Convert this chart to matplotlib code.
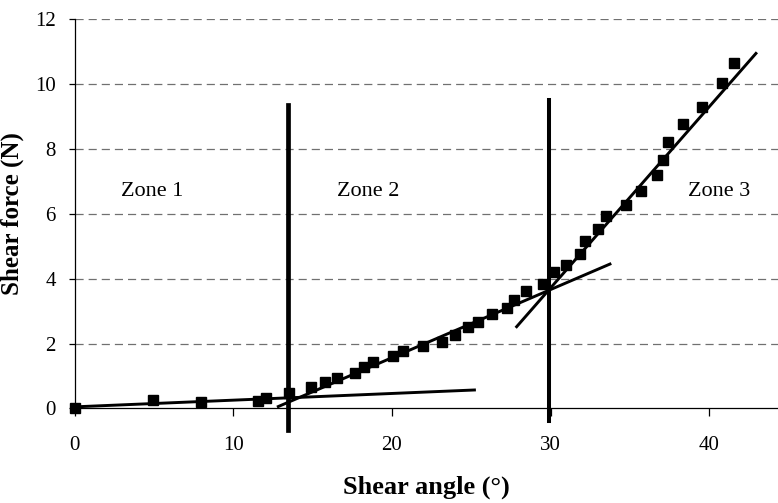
"""Shear force vs shear angle with three zones and trend lines."""

import matplotlib.pyplot as plt

plt.rcParams["font.family"] = ["Liberation Serif", "DejaVu Serif"]

# Measured points
angle = [0, 4.95, 7.97, 11.56, 12.07, 13.5, 14.88, 15.78, 16.56, 17.67, 18.26, 18.79,
         20.09, 20.70, 21.96, 23.18, 23.98, 24.78, 25.45, 26.29, 27.27, 27.69, 28.45,
         29.50, 30.23, 30.97, 31.85, 32.17, 33.0, 33.49, 34.77, 35.68, 36.69, 37.1,
         37.38, 38.36, 39.56, 40.78, 41.56]
force = [0.0, 0.26, 0.2, 0.24, 0.31, 0.49, 0.65, 0.83, 0.95, 1.10, 1.27, 1.44,
         1.62, 1.76, 1.91, 2.06, 2.26, 2.50, 2.65, 2.91, 3.09, 3.33, 3.61,
         3.83, 4.19, 4.41, 4.77, 5.15, 5.54, 5.93, 6.27, 6.69, 7.19, 7.67,
         8.22, 8.78, 9.28, 10.04, 10.63]

# Trend lines (end points)
fit1_x, fit1_y = [0, 25.2], [0.05, 0.57]
fit2_x, fit2_y = [12.84, 33.74], [0.06, 4.45]
fit3_x, fit3_y = [27.86, 42.94], [2.52, 10.94]

# Zone boundaries
bound_x = [13.47, 29.9]
bound_lo = [-0.66, -0.38]
bound_hi = [9.34, 9.52]
bound_lw = [3.4, 2.9]

zone_labels = ["Zone 1", "Zone 2", "Zone 3"]
zone_x = [4.9, 18.5, 40.6]
zone_y = [6.7, 6.7, 6.7]

fig = plt.figure(figsize=(7.78, 5.03), dpi=100)
ax = fig.add_axes([0.0958, 0.1879, 0.9042, 0.7743])

for y in range(2, 13, 2):
    ax.axhline(y, color="#707070", linewidth=0.9, linestyle=(0, (6.5, 4)), zorder=0)

ax.plot(fit1_x, fit1_y, color="black", linewidth=2.1)
ax.plot(fit2_x, fit2_y, color="black", linewidth=2.1)
ax.plot(fit3_x, fit3_y, color="black", linewidth=2.1)

for bx, lo, hi, lw in zip(bound_x, bound_lo, bound_hi, bound_lw):
    ax.plot([bx, bx], [lo, hi], color="black", linewidth=lw, clip_on=False)

ax.plot(angle, force, linestyle="none", marker="s", markersize=6.7,
        color="black", clip_on=False, zorder=5)

for lab, zx, zy in zip(zone_labels, zone_x, zone_y):
    ax.text(zx, zy, lab, fontsize=16, ha="center", va="center")

ax.set_xlim(0, 44.33)
ax.set_ylim(0, 12)
ax.set_xticks([0, 10, 20, 30, 40])
ax.set_yticks(range(0, 13, 2))
ax.spines["top"].set_visible(False)
ax.spines["right"].set_visible(False)
ax.spines["left"].set_linewidth(0.9)
ax.spines["bottom"].set_linewidth(0.9)
ax.tick_params(axis="x", direction="out", length=5.8, width=0.9, pad=14, labelsize=15)
ax.tick_params(axis="y", direction="out", length=4.5, width=0.9, pad=9, labelsize=15)

ax.set_xlabel("Shear angle (°)", fontsize=19, fontweight="bold", labelpad=15)
ax.set_ylabel("Shear force (N)", fontsize=18, fontweight="bold", labelpad=8)

plt.savefig("out.png", dpi=100)
